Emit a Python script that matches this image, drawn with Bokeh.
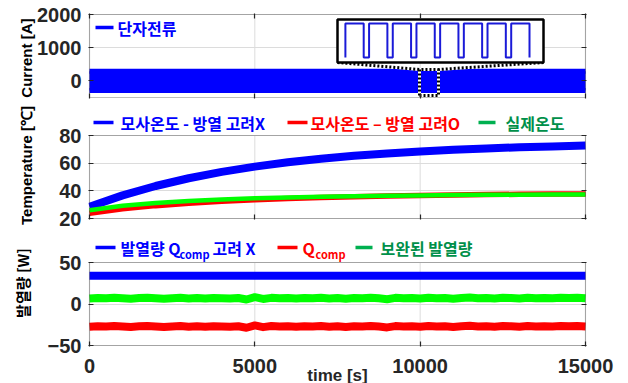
import numpy as np
from bokeh.plotting import figure
from bokeh.layouts import column
from bokeh.models import (Range1d, FixedTicker, Label, Arrow, LinearAxis,
                          BoxAnnotation, CustomLabelingPolicy)
from bokeh.embed import file_html
from bokeh.resources import INLINE

# ---------------- data ----------------
x_ticks = [0, 5000, 10000, 15000]

# Panel 1: terminal current (envelope of the fast square wave)
current_t = [0, 15000]
current_max = [290, 290]
current_min = [-290, -290]
current_yticks = [0, 1000, 2000]
# zoom window shown in the inset
zoom_t = [9980, 10554]
zoom_i = [-440, 343]
inset_t = [10002, 10002, 10053, 10053, 10068, 10068, 10119, 10119, 10134, 10134,
           10185, 10185, 10200, 10200, 10251, 10251, 10266, 10266, 10317, 10317,
           10332, 10332, 10383, 10383, 10398, 10398, 10449, 10449, 10464, 10464,
           10515, 10515]
inset_i = [-300, 300, 300, -300, -300, 300, 300, -300, -300, 300,
           300, -300, -300, 300, 300, -300, -300, 300, 300, -300,
           -300, 300, 300, -300, -300, 300, 300, -300, -300, 300,
           300, -300]

# Panel 2: temperatures
temp_t = [0, 1000, 2000, 3000, 4000, 5000, 6000, 7000, 8000, 9000,
          10000, 11000, 12000, 13000, 14000, 15000]
temp_sim_noheat = [28.5, 36.7, 43.5, 49.1, 53.7, 57.5, 60.6, 63.2, 65.3, 67.0,
                   68.5, 69.7, 70.6, 71.5, 72.1, 72.7]
temp_sim_heat = [23.8, 27.0, 29.3, 31.1, 32.5, 33.6, 34.5, 35.2, 35.8, 36.3,
                 36.7, 37.0, 37.3, 37.5, 37.7, 37.8]
temp_real = [26.0, 29.2, 31.2, 32.7, 33.8, 34.6, 35.2, 35.7, 36.1, 36.4,
             36.7, 36.9, 37.1, 37.2, 37.3, 37.4]
temp_yticks = [20, 40, 60, 80]

# Panel 3: heat generation
q_t = list(range(0, 15001, 250))
q_nocomp_t = [0, 15000]
q_nocomp = [34, 34]
q_comp = [-27.5, -26.8, -27.2, -26.5, -27.0, -27.6, -26.9, -26.4, -27.1, -27.8,
          -27.0, -26.6, -27.3, -26.9, -27.4, -26.7, -27.0, -27.5, -26.8, -28.6,
          -25.8, -27.9, -26.6, -27.2, -26.9, -27.5, -26.7, -27.1, -26.5, -27.3,
          -26.8, -27.6, -26.9, -27.0, -26.4, -27.2, -28.2, -26.6, -27.0, -26.8,
          -27.4, -26.5, -27.1, -26.9, -27.6, -26.7, -26.2, -27.0, -26.8, -27.3,
          -26.6, -26.9, -27.4, -26.5, -27.0, -26.7, -27.2, -26.6, -26.9, -26.5,
          -27.0]
q_corrected = [6.5, 7.2, 6.8, 7.5, 7.0, 6.4, 7.1, 7.6, 6.9, 6.2,
               7.0, 7.4, 6.7, 7.1, 6.6, 7.3, 7.0, 6.5, 7.2, 5.4,
               8.2, 6.1, 7.4, 6.8, 7.1, 6.5, 7.3, 6.9, 7.5, 6.7,
               7.2, 6.4, 7.1, 7.0, 7.6, 6.8, 5.8, 7.4, 7.0, 7.2,
               6.6, 7.5, 6.9, 7.1, 6.4, 7.3, 7.8, 7.0, 7.2, 6.7,
               7.4, 7.1, 6.6, 7.5, 7.0, 7.3, 6.8, 7.4, 7.1, 7.5,
               7.0]
q_yticks = [-50, 0, 50]

# ---------------- styling ----------------
BLUE = "#0000ff"
RED = "#ff0000"
GREEN = "#00ff00"
GREEN_LEG = "#00b050"
GREEN_TXT = "#00904a"
AX = "#262626"
LAT = "Liberation Sans"
KOR = "Noto Sans CJK KR"
PW, PH = 496, 83          # plot box size in pixels
LEG_SIZE = "16px"


def no_labels():
    return CustomLabelingPolicy(code="for (const i of indices) { if (i < 0) yield i }")


def make_fig(lo, hi, yticks, pad_top, top, bottom, xlabels, ylabel, ylabel_font,
             ylabel_standoff, top_axis=False):
    sx = 15000 / PW
    sy = (hi - lo) / PH
    p = figure(frame_width=PW + 2, frame_height=PH + 1 + pad_top,
               x_range=Range1d(-sx, 15000 + sx),
               y_range=Range1d(lo - sy, hi + pad_top * sy),
               output_backend="svg", toolbar_location=None,
               min_border_left=88, min_border_right=42,
               min_border_top=top, min_border_bottom=bottom,
               background_fill_color="white", border_fill_color="white")
    p.outline_line_color = None
    p.xgrid.visible = False
    p.ygrid.ticker = FixedTicker(ticks=yticks)
    p.ygrid.grid_line_color = "#dcdcdc"
    # vertical grid lines limited to the plot box
    p.segment(x0=x_ticks, y0=[lo] * len(x_ticks), x1=x_ticks, y1=[hi] * len(x_ticks),
              line_color="#dcdcdc", line_width=1)
    p.xaxis.ticker = FixedTicker(ticks=x_ticks)
    p.yaxis.ticker = FixedTicker(ticks=yticks)
    p.add_layout(LinearAxis(ticker=FixedTicker(ticks=yticks)), "right")
    if top_axis:
        p.add_layout(LinearAxis(ticker=FixedTicker(ticks=x_ticks)), "above")
    for ax in p.axis:
        ax.axis_line_color = None
        ax.major_tick_line_color = AX
        ax.major_tick_line_width = 1.2
        ax.major_tick_in = 5
        ax.major_tick_out = 0
        ax.minor_tick_in = 0
        ax.minor_tick_out = 0
        ax.major_label_text_font = LAT
        ax.major_label_text_font_style = "bold"
        ax.major_label_text_font_size = "20px"
        ax.major_label_text_color = AX
    hidden = p.right + p.above
    if not xlabels:
        hidden = hidden + [p.below[0]]
    for ax in hidden:
        ax.major_label_text_font_size = "1px"
        ax.major_label_standoff = 0
        ax.major_label_policy = no_labels()
    yax = p.left[0]
    yax.major_label_standoff = 7
    yax.axis_label = ylabel
    yax.axis_label_text_font = ylabel_font
    yax.axis_label_text_font_size = "15px"
    yax.axis_label_text_font_style = "bold"
    yax.axis_label_text_color = "#000000"
    yax.axis_label_standoff = ylabel_standoff
    if xlabels:
        xax = p.below[0]
        xax.major_label_standoff = 12
        xax.axis_label = "time [s]"
        xax.axis_label_text_font = LAT
        xax.axis_label_text_font_size = "17px"
        xax.axis_label_text_font_style = "bold"
        xax.axis_label_text_color = AX
        xax.axis_label_standoff = -10
    # plot box drawn on top of the data, like the boxed axes of the original
    p.add_layout(BoxAnnotation(left=0, right=15000, bottom=lo, top=hi,
                               fill_color=None, line_color=AX, line_width=1.2))
    return p


def leg_line(p, x0, x1, y, color):
    p.add_layout(Arrow(end=None, x_start=x0, x_end=x1, y_start=y, y_end=y,
                       start_units="screen", end_units="screen",
                       line_color=color, line_width=3.5))


def txt(p, x, y, s, color, size=LEG_SIZE, font=KOR):
    p.add_layout(Label(x=x, y=y, x_units="screen", y_units="screen", text=s,
                       text_color=color, text_font=font, text_font_size=size,
                       text_font_style="bold", text_baseline="middle",
                       text_align="left"))


# ---------------- panel 1 ----------------
p1 = make_fig(-500, 2000, current_yticks, 1, 13, 6, False,
              "Current  [A]", LAT, -1, top_axis=True)
p1.varea(x=current_t, y1=current_min, y2=current_max, color=BLUE)
p1.line(current_t, current_max, line_color=BLUE, line_width=5)
p1.line(current_t, current_min, line_color=BLUE, line_width=5)

# inset box placed in axis coordinates
box_t = [7500, 13730]
box_y = [554, 1849]
inset_yr = [-388, 370]
kx = (box_t[1] - box_t[0]) / (zoom_t[1] - zoom_t[0])
ky = (box_y[1] - box_y[0]) / (inset_yr[1] - inset_yr[0])
ix = [box_t[0] + (t - zoom_t[0]) * kx for t in inset_t]
iy = [box_y[0] + (v - inset_yr[0]) * ky for v in inset_i]

conn_x = [[zoom_t[0], zoom_t[1], zoom_t[1], zoom_t[0], zoom_t[0]],
          [box_t[0], zoom_t[0]], [box_t[1], zoom_t[1]]]
conn_y = [[zoom_i[0], zoom_i[0], zoom_i[1], zoom_i[1], zoom_i[0]],
          [box_y[0], zoom_i[1]], [box_y[0], zoom_i[1]]]
p1.multi_line(conn_x, conn_y, line_color="white", line_width=3)
p1.multi_line(conn_x, conn_y, line_color="black", line_width=3, line_dash="2 2")
p1.quad(left=box_t[0], right=box_t[1], bottom=box_y[0], top=box_y[1],
        fill_color="white", line_color="black", line_width=2.5)
p1.line(ix, iy, line_color="#1a1ad8", line_width=2)

leg_line(p1, 7, 25, 71, BLUE)
txt(p1, 29, 71, "단자전류", BLUE)

# ---------------- panel 2 ----------------
p2 = make_fig(20, 80, temp_yticks, 24, 7, 11, False,
              "Temperature [℃]", LAT, 21)
p2.line(temp_t, temp_sim_noheat, line_color=BLUE, line_width=8)
p2.line(temp_t, temp_sim_heat, line_color=RED, line_width=5.5)
p2.line(temp_t, temp_real, line_color=GREEN, line_width=4.5)

leg_line(p2, 5, 25, 97, BLUE)
txt(p2, 32, 97, "모사온도 - 방열 고려X", BLUE)
leg_line(p2, 199, 219, 97, RED)
txt(p2, 222, 97, "모사온도 – 방열 고려O", RED)
leg_line(p2, 390, 407, 97, GREEN_LEG)
txt(p2, 417, 97, "실제온도", GREEN_TXT)

# ---------------- panel 3 ----------------
p3 = make_fig(-50, 50, q_yticks, 26, 6, 37, True,
              "\u00a0\u00a0\u00a0\u00a0\u00a0발열량 [W]", KOR, 12)
p3.line(q_nocomp_t, q_nocomp, line_color=BLUE, line_width=8)
p3.line(q_t, q_corrected, line_color=GREEN, line_width=8, line_join="round")
p3.line(q_t, q_comp, line_color=RED, line_width=8, line_join="round")

leg_line(p3, 7, 27, 99, BLUE)
txt(p3, 32, 99, "발열량 Q", BLUE)
txt(p3, 91, 93, "comp", BLUE, size="11px")
txt(p3, 124, 99, "고려 X", BLUE)
leg_line(p3, 189, 209, 99, RED)
txt(p3, 214, 99, "Q", RED)
txt(p3, 227, 93, "comp", RED, size="11px")
leg_line(p3, 267, 284, 99, GREEN_LEG)
txt(p3, 292, 99, "보완된 발열량", GREEN_TXT)

layout = column(p1, p2, p3, spacing=0)
open("out.html", "w").write(file_html(layout, INLINE))
